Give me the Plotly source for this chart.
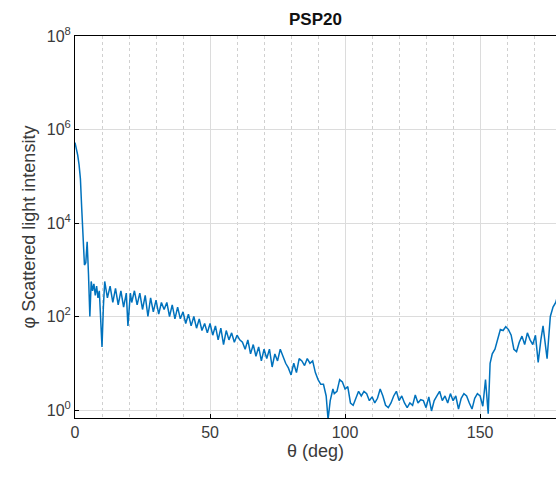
import plotly.graph_objects as go

# Scattering angle (deg)
theta = [0, 0.5, 1, 1.5, 2, 2.5, 3, 3.5, 4, 4.5, 5, 5.5, 6, 6.5, 7, 7.5, 8, 8.5, 9, 9.5,
         10, 10.5, 11, 12, 13, 14, 15, 16, 17, 18, 19, 19.6, 20.5, 21, 22, 23, 24, 25, 26,
         27, 28, 29, 30, 31, 32, 33, 34, 35, 36, 37, 38, 39, 40, 41, 42, 43, 44, 45, 46,
         47, 48, 49, 50, 51, 52, 53, 54, 55, 56, 57, 58, 59, 60, 61, 62, 63, 64, 65, 66,
         67, 68, 69, 70, 71, 72, 73, 74, 75, 76, 77, 78, 79, 80, 81, 82, 83, 84, 85, 86,
         87, 88, 89, 90, 91, 92, 93, 93.7, 94.5, 95.5, 96, 97, 98, 99, 100, 101, 102, 103,
         104, 105, 106, 107, 108, 109, 110, 111, 112, 113, 114, 115, 116, 117, 118, 119,
         120, 121, 122, 123, 124, 125, 126, 127, 128, 129, 130, 131, 132, 133, 134, 135,
         136, 137, 138, 139, 140, 141, 142, 143, 144, 145, 146, 147, 148, 149, 150, 151,
         152, 153, 153.7, 154.5, 155.5, 156.5, 157.5, 158.5, 159.5, 160.5, 161.5, 162.5,
         163.5, 164.5, 165.5, 166.5, 167.5, 168.5, 169.5, 170.5, 171.5, 172.5, 173.3,
         174.8, 176, 177, 178, 179, 180]

# log10 of scattered light intensity
log_intensity = [5.72, 5.6, 5.45, 5.25, 4.95, 4.3, 3.5, 3.1, 3.15, 3.6, 2.9, 2.0, 2.75, 2.55,
                 2.7, 2.45, 2.65, 2.4, 2.55, 2.0,
                 1.35, 2.2, 2.75, 2.4, 2.65, 2.3, 2.6, 2.25, 2.55, 2.2, 2.5, 1.8, 2.5, 2.3,
                 2.55, 2.25, 2.5, 2.15, 2.45,
                 2.0, 2.4, 2.1, 2.35, 2.05, 2.3, 2.15, 2.3, 2.0, 2.25, 1.95, 2.2, 1.95, 2.1,
                 1.85, 2.05, 1.8, 2.0, 1.75, 1.95,
                 1.7, 1.85, 1.65, 1.85, 1.6, 1.8, 1.5, 1.75, 1.4, 1.7, 1.5, 1.65, 1.45, 1.6,
                 1.5, 1.45, 1.3, 1.5, 1.2, 1.4,
                 1.15, 1.35, 1.05, 1.3, 1.1, 1.3, 0.92, 1.2, 1.05, 1.3, 1.15, 1.0, 0.9, 0.75,
                 1.0, 0.8, 1.1, 1.05, 0.95, 1.1,
                 1.0, 1.05, 0.8, 0.65, 0.55, 0.55, 0.3, -0.2, 0.2, 0.45, 0.35, 0.4, 0.65, 0.6,
                 0.45, 0.5, 0.15, 0.1,
                 0.25, 0.4, 0.3, 0.4, 0.35, 0.2, 0.28, 0.15, 0.25, 0.45, 0.3, 0.1, 0.05, 0.15,
                 0.3, 0.4,
                 0.2, 0.3, 0.15, 0.05, 0.15, 0.1, 0.32, 0.15, 0.22, 0.2, 0.05, 0.28, -0.02,
                 0.2, 0.3, 0.4,
                 0.2, 0.3, 0.15, 0.35, 0.2, 0.3, 0.02, 0.25, 0.35, 0.3, 0.15, 0.02, 0.25, 0.35,
                 0.3, 0.08,
                 0.65, -0.08, 1.0, 1.2, 1.3, 1.5, 1.72, 1.7, 1.78, 1.72, 1.6, 1.3,
                 1.25, 1.45, 1.58, 1.4, 1.65, 1.5, 1.4, 1.6, 1.02, 1.5, 1.8,
                 1.1, 2.0, 2.2, 2.3, 2.5, 2.6]

intensity = [10 ** v for v in log_intensity]

y_tickvals = [1, 1e2, 1e4, 1e6, 1e8]
y_ticktext = ["10<sup>0</sup>", "10<sup>2</sup>", "10<sup>4</sup>", "10<sup>6</sup>", "10<sup>8</sup>"]
x_tickvals = [0, 50, 100, 150]

font_family = "Liberation Sans, Arial, sans-serif"
txt = "#3a3a3a"

fig = go.Figure()
fig.add_trace(go.Scatter(x=theta, y=intensity, mode="lines",
                         line=dict(color="#0072BD", width=1.5), showlegend=False))

fig.update_layout(
    width=556, height=477,
    margin=dict(l=75, r=0, t=36, b=59, autoexpand=False),
    paper_bgcolor="white", plot_bgcolor="white",
    font=dict(family=font_family, size=16, color=txt),
    title=dict(text="<b>PSP20</b>", x=0.5, xref="paper", xanchor="center",
               y=1 - 19 / 477, yref="container", yanchor="middle",
               font=dict(size=17, color="#111111")),
)

fig.update_xaxes(
    range=[0, 178.1], tickvals=x_tickvals, ticks="inside", ticklen=4, tickcolor="black",
    showline=True, linecolor="black", linewidth=1, mirror=True, automargin=False,
    showgrid=True, gridcolor="#dcdcdc", gridwidth=1, zeroline=False,
    minor=dict(dtick=10, showgrid=True, gridcolor="#d0d0d0", griddash="dot", ticks=""),
    title=dict(text="θ (deg)", standoff=2, font=dict(size=18)),
    tickfont=dict(size=16),
)
fig.update_yaxes(
    type="log", range=[-0.171, 8], tickvals=y_tickvals, ticktext=y_ticktext,
    ticks="inside", ticklen=4, tickcolor="black", automargin=False,
    showline=True, linecolor="black", linewidth=1, mirror=False,
    showgrid=True, gridcolor="#dcdcdc", gridwidth=1, zeroline=False,
    title=dict(text="φ Scattered light intensity", standoff=6, font=dict(size=18)),
    tickfont=dict(size=16),
)

fig.write_html("out.html", config={"displayModeBar": False},
               post_script="document.body.style.margin='0';document.body.style.overflow='hidden';")
